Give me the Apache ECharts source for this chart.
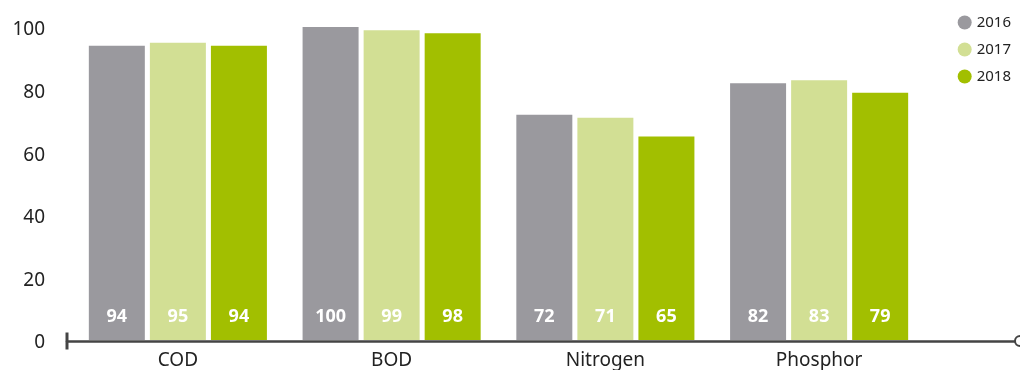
<!DOCTYPE html>
<html>
<head>
<meta charset="utf-8">
<script src="https://cdn.jsdelivr.net/npm/echarts@6/dist/echarts.min.js"></script>
<style>
	html, body { margin: 0; padding: 0; background: #fff; }
	#chart { width: 1020px; height: 370px; }
</style>
</head>
<body>
<div id="chart"></div>
<script>
var categories = ['COD', 'BOD', 'Nitrogen', 'Phosphor'];
var years = ['2016', '2017', '2018'];
var values2016 = [94, 100, 72, 82];
var values2017 = [95, 99, 71, 83];
var values2018 = [94, 98, 65, 79];
var yTicks = { min: 0, max: 100, interval: 20 };
var colors = ['#9a999e', '#d2df94', '#a2bf00'];

function makeSeries(name, data, color){
	return {
		name: name,
		type: 'bar',
		data: data,
		barWidth: 56,
		barGap: '9%',
		itemStyle: { color: color },
		label: {
			show: true,
			position: 'insideBottom',
			distance: 14,
			color: '#fff',
			fontSize: 18,
			fontWeight: 'bold',
			fontFamily: 'Noto Sans'
		}
	};
}

var chart = echarts.init(document.getElementById('chart'));
var option = {
	animation: false,
	textStyle: { fontFamily: 'Noto Sans' },
	color: colors,
	legend: {
		orient: 'vertical',
		right: 4,
		top: 10,
		icon: 'circle',
		itemWidth: 14,
		itemHeight: 14,
		itemGap: 12,
		textStyle: { fontSize: 15, color: '#222' },
		data: years
	},
	grid: [
		{ left: 71, right: 94, top: 27, bottom: 30 },
		{ left: 67, right: 0, top: 27, bottom: 29 }
	],
	xAxis: [
		{
			type: 'category',
			gridIndex: 0,
			data: categories,
			axisLine: { show: false },
			axisTick: { show: false },
			axisLabel: { fontSize: 19, color: '#222', margin: 11 }
		},
		{
			type: 'value',
			gridIndex: 1,
			min: 0,
			max: 1,
			axisLine: {
				show: true,
				// start: short vertical bar, end: hollow circle
				symbol: ['path://M0,0L17,0L17,3L0,3Z', 'emptyCircle'],
				symbolSize: [17, 10],
				lineStyle: { color: '#444', width: 2.5 }
			},
			axisTick: { show: false },
			axisLabel: { show: false },
			splitLine: { show: false }
		}
	],
	yAxis: [
		{
			type: 'value',
			gridIndex: 0,
			min: yTicks.min,
			max: yTicks.max,
			interval: yTicks.interval,
			axisLine: { show: false },
			axisTick: { show: false },
			splitLine: { show: false },
			axisLabel: { fontSize: 19, color: '#222', margin: 26, verticalAlign: 'top', lineHeight: 6 }
		},
		{
			type: 'value',
			gridIndex: 1,
			show: false
		}
	],
	series: [
		makeSeries(years[0], values2016, colors[0]),
		makeSeries(years[1], values2017, colors[1]),
		makeSeries(years[2], values2018, colors[2])
	]
};
chart.setOption(option);
</script>
</body>
</html>
